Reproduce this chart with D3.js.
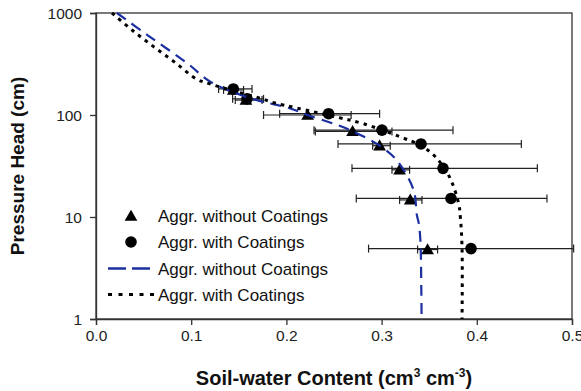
<!DOCTYPE html>
<html>
<head>
<meta charset="utf-8">
<script src="https://cdn.jsdelivr.net/npm/d3@7"></script>
<style>
  body { margin: 0; background: #fff; }
  svg { display: block; font-family: "Liberation Sans", Arial, sans-serif; }
</style>
</head>
<body>
<div id="chart"></div>
<script>
// measured points, aggregates without coatings (triangles)
const thetaWithout = [0.1442, 0.1575, 0.2223, 0.2695, 0.2979, 0.3189, 0.3301, 0.3483];
const headWithout = [176, 140, 100, 69, 50, 29, 14.7, 4.8];
const errLoWithout = [0.134, 0.1463, 0.176, 0.2304, 0.2906, 0.3109, 0.3189, 0.3378];
const errHiWithout = [0.155, 0.1744, 0.268, 0.3109, 0.3091, 0.3294, 0.3424, 0.3588];

// measured points, aggregates with coatings (circles)
const thetaWith = [0.1442, 0.1586, 0.2443, 0.3004, 0.3414, 0.3645, 0.3729, 0.3939];
const headWith = [180, 144, 103, 71, 52, 30, 15.2, 4.9];
const errLoWith = [0.1288, 0.1435, 0.1929, 0.229, 0.2542, 0.2689, 0.2734, 0.2863];
const errHiWith = [0.1639, 0.176, 0.2979, 0.375, 0.4468, 0.4636, 0.4737, 0.5017];

// fitted curves
const fitWithoutTheta = [0.022, 0.054, 0.096, 0.120, 0.162, 0.204, 0.222, 0.250, 0.270, 0.298, 0.316, 0.3336, 0.337, 0.339, 0.3407, 0.3417, 0.342];
const fitWithoutHead = [1000, 608, 321, 212, 146, 116, 100, 82, 69, 50, 36, 18.4, 10.5, 8.7, 6, 2, 1];
const fitWithTheta = [0.0168, 0.0378, 0.0605, 0.0833, 0.106, 0.118, 0.145, 0.1726, 0.1866, 0.211, 0.2538, 0.2811, 0.3196, 0.3414, 0.3564, 0.371, 0.3809, 0.3827, 0.3845, 0.3845];
const fitWithHead = [1000, 681, 468, 326, 224, 204, 172, 146, 132, 117, 95, 82, 61, 50, 39, 25, 13.6, 10, 5, 1];

const xTicks = [0, 0.1, 0.2, 0.3, 0.4, 0.5];
const yTicks = [1, 10, 100, 1000];
const legendLabels = ["Aggr. without Coatings", "Aggr. with Coatings", "Aggr. without Coatings", "Aggr. with Coatings"];

const W = 581, H = 391;
const margin = { top: 13, right: 9, bottom: 72, left: 96 };
const blue = "#1c2fa0";
const axisColor = "#333";

const svg = d3.select("#chart").append("svg")
    .attr("width", W)
    .attr("height", H);

const x = d3.scaleLinear().domain([0, 0.5]).range([margin.left, W - margin.right]);
const y = d3.scaleLog().domain([1, 1000]).range([H - margin.bottom, margin.top]);

// frame
svg.append("rect")
    .attr("x", x(0)).attr("y", y(1000))
    .attr("width", x(0.5) - x(0)).attr("height", y(1) - y(1000))
    .attr("fill", "none").attr("stroke", axisColor).attr("stroke-width", 1.3);

// axes
const xAxis = svg.append("g")
    .attr("transform", `translate(0,${y(1)})`)
    .call(d3.axisBottom(x).tickValues(xTicks).tickFormat(d3.format(".1f")).tickSize(6).tickPadding(5));
const yAxis = svg.append("g")
    .attr("transform", `translate(${x(0)},0)`)
    .call(d3.axisLeft(y).tickValues(yTicks).tickFormat(d3.format("d")).tickSize(6).tickPadding(8));

[xAxis, yAxis].forEach(a => {
    a.select(".domain").attr("stroke", axisColor).attr("stroke-width", 1.3);
    a.selectAll(".tick line").attr("stroke", axisColor).attr("stroke-width", 1.3);
    a.selectAll(".tick text")
        .attr("fill", "#222")
        .style("font-size", "15.5px")
        .style("font-family", "'Liberation Sans', Arial, sans-serif");
});
yAxis.selectAll(".tick text").attr("dy", "0.36em");

// axis titles
const xTitle = svg.append("text")
    .attr("x", (x(0) + x(0.5)) / 2)
    .attr("y", 385)
    .attr("text-anchor", "middle")
    .attr("font-size", 20)
    .attr("font-weight", "bold")
    .attr("fill", "#111");
xTitle.append("tspan").text("Soil-water Content (cm");
xTitle.append("tspan").attr("dy", -8).attr("font-size", 12).text("3");
xTitle.append("tspan").attr("dy", 8).text(" cm");
xTitle.append("tspan").attr("dy", -8).attr("font-size", 12).text("-3");
xTitle.append("tspan").attr("dy", 8).text(")");

svg.append("text")
    .attr("transform", `translate(24,${(y(1) + y(1000)) / 2}) rotate(-90)`)
    .attr("text-anchor", "middle")
    .attr("font-size", 19)
    .attr("font-weight", "bold")
    .attr("fill", "#111")
    .text("Pressure Head (cm)");

// error bars
function errorBars(lo, hi, heads, cls) {
    const g = svg.append("g").attr("class", cls)
        .attr("stroke", "#222").attr("stroke-width", 1.2);
    heads.forEach((h, i) => {
        const yy = y(h);
        g.append("line").attr("x1", x(lo[i])).attr("x2", x(hi[i])).attr("y1", yy).attr("y2", yy);
        [lo[i], hi[i]].forEach(v => {
            g.append("line").attr("x1", x(v)).attr("x2", x(v)).attr("y1", yy - 4).attr("y2", yy + 4);
        });
    });
}
errorBars(errLoWithout, errHiWithout, headWithout, "err-without");
errorBars(errLoWith, errHiWith, headWith, "err-with");

// markers
const tri = d3.symbol().type(d3.symbolTriangle).size(70);
svg.append("g").selectAll("path")
    .data(thetaWithout.map((t, i) => [t, headWithout[i]]))
    .join("path")
    .attr("d", tri)
    .attr("transform", d => `translate(${x(d[0])},${y(d[1]) + 1})`)
    .attr("fill", "#000");

svg.append("g").selectAll("circle")
    .data(thetaWith.map((t, i) => [t, headWith[i]]))
    .join("circle")
    .attr("cx", d => x(d[0]))
    .attr("cy", d => y(d[1]))
    .attr("r", 5.8)
    .attr("fill", "#000");

// fitted curves
const line = d3.line()
    .x(d => x(d[0]))
    .y(d => y(d[1]))
    .curve(d3.curveCatmullRom.alpha(0.5));

svg.append("path")
    .datum(fitWithoutTheta.map((t, i) => [t, fitWithoutHead[i]]))
    .attr("d", line)
    .attr("fill", "none")
    .attr("stroke", blue)
    .attr("stroke-width", 2.2)
    .attr("stroke-dasharray", "11,7");

svg.append("path")
    .datum(fitWithTheta.map((t, i) => [t, fitWithHead[i]]))
    .attr("d", line)
    .attr("fill", "none")
    .attr("stroke", "#000")
    .attr("stroke-width", 3)
    .attr("stroke-dasharray", "3.5,5");

// legend
const legend = svg.append("g");
const rowY = [216, 242, 268.5, 294.5];
legendLabels.forEach((lab, i) => {
    legend.append("text")
        .attr("x", 158)
        .attr("y", rowY[i] + 6)
        .attr("font-size", 17)
        .attr("fill", "#111")
        .text(lab);
});
legend.append("path").attr("d", tri).attr("transform", `translate(131,${rowY[0] + 1})`).attr("fill", "#000");
legend.append("circle").attr("cx", 131).attr("cy", rowY[1]).attr("r", 5.8).attr("fill", "#000");
legend.append("line")
    .attr("x1", 108).attr("x2", 150).attr("y1", rowY[2]).attr("y2", rowY[2])
    .attr("stroke", blue).attr("stroke-width", 2.5).attr("stroke-dasharray", "18,6");
legend.append("line")
    .attr("x1", 108).attr("x2", 154).attr("y1", rowY[3]).attr("y2", rowY[3])
    .attr("stroke", "#000").attr("stroke-width", 3).attr("stroke-dasharray", "4,6.5");
</script>
</body>
</html>
